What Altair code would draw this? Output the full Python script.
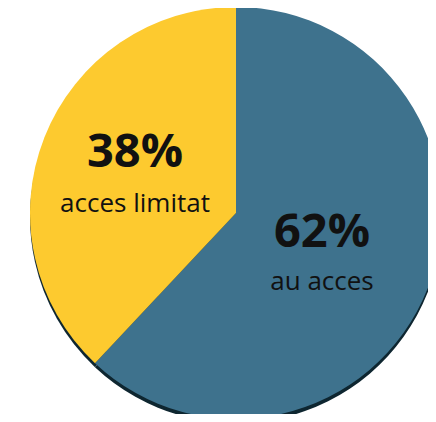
import altair as alt
import pandas as pd

categories = ["au acces", "acces limitat"]
values = [62, 38]
pct_labels = ["62%", "38%"]
colors = ["#3E728D", "#FDCA2F"]

df = pd.DataFrame({"cat": categories, "val": values, "pct": pct_labels,
                   "order": [0, 1]})

CX, CY, R = 228, 205, 206

shadow = alt.Chart(df).mark_arc(radius=R, color="#0E2630").encode(
    theta=alt.Theta("val:Q", stack=True),
    order=alt.Order("order:Q"),
    x=alt.value(CX), y=alt.value(CY + 4),
)

pie = alt.Chart(df).mark_arc(radius=R).encode(
    theta=alt.Theta("val:Q", stack=True),
    order=alt.Order("order:Q"),
    color=alt.Color("cat:N", scale=alt.Scale(domain=categories, range=colors), legend=None),
    x=alt.value(CX), y=alt.value(CY),
)

font = "Open Sans"
pos = {"acces limitat": (127, 159, 204), "au acces": (314, 239, 282)}

layers = [shadow, pie]
for cat, pct in zip(categories, pct_labels):
    x, yb, ys = pos[cat]
    sub = df[df["cat"] == cat]
    layers.append(alt.Chart(sub).mark_text(font=font, fontSize=47, fontWeight="bold",
                                           color="#111111", baseline="alphabetic", align="center").encode(
        text="pct:N", x=alt.value(x), y=alt.value(yb)))
    layers.append(alt.Chart(sub).mark_text(font=font, fontSize=26, color="#111111",
                                           baseline="alphabetic", align="center").encode(
        text="cat:N", x=alt.value(x), y=alt.value(ys)))

chart = alt.layer(*layers).properties(
    width=420, height=406, padding=0,
    autosize=alt.AutoSizeParams(type="none"),
    background="white",
).configure_view(stroke=None)

chart.save("out.html", embed_options={"renderer": "svg", "actions": False})
